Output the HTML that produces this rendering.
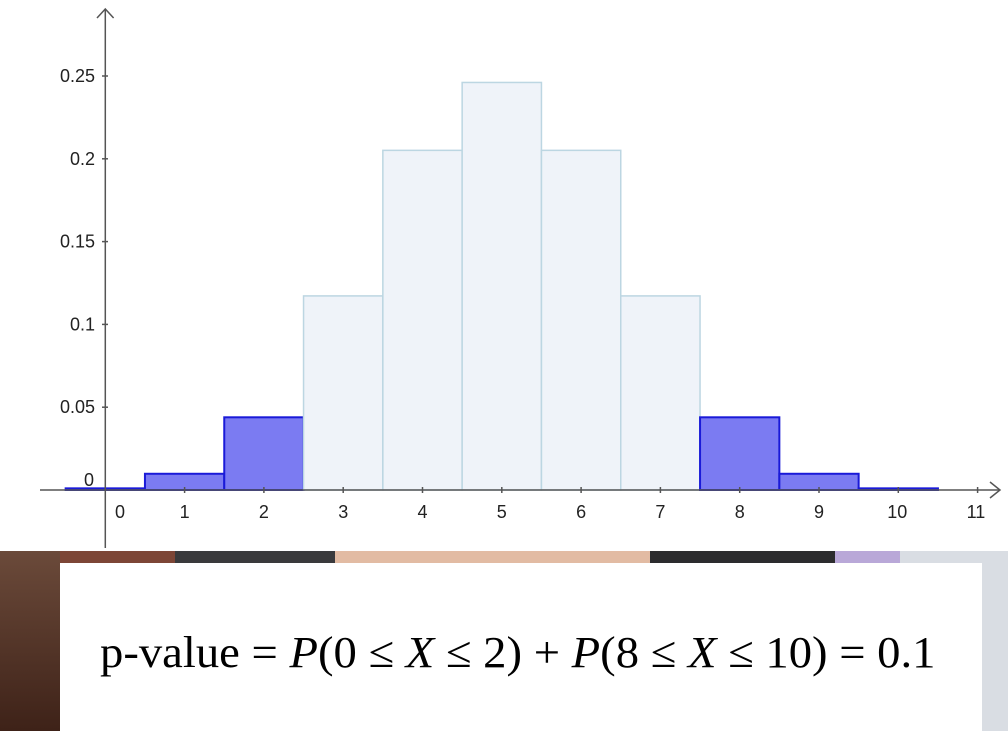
<!DOCTYPE html>
<html><head><meta charset="utf-8"><style>
body{margin:0;width:1008px;height:731px;overflow:hidden;background:#fff;position:relative;font-family:"Liberation Sans",sans-serif}
.seg{position:absolute}
</style></head><body>
<svg id="chart" width="1008" height="551" style="position:absolute;left:0;top:0" xmlns="http://www.w3.org/2000/svg"></svg>
<div style="position:absolute;left:0;top:551px;width:1008px;height:180px">
<div class="seg" style="left:0;top:0;width:60px;height:180px;background:linear-gradient(#6b4a3a,#3e2218)"></div>
<div class="seg" style="left:60px;top:0;width:115px;height:12px;background:#7d4636"></div>
<div class="seg" style="left:175px;top:0;width:160px;height:12px;background:#3a3a3c"></div>
<div class="seg" style="left:335px;top:0;width:315px;height:12px;background:#e2bba3"></div>
<div class="seg" style="left:650px;top:0;width:185px;height:12px;background:#2c2c2e"></div>
<div class="seg" style="left:835px;top:0;width:65px;height:12px;background:#b9a8d8"></div>
<div class="seg" style="left:900px;top:0;width:108px;height:180px;background:#d9dde3"></div>
</div>
<div style="position:absolute;left:60px;top:563px;width:922px;height:168px;background:#fff">
<div style="position:absolute;left:40px;top:64px;font-family:'Liberation Serif',serif;font-size:44px;color:#000;white-space:nowrap;transform:scaleX(1.06);transform-origin:left">p-value = <i>P</i>(0 ≤ <i>X</i> ≤ 2) + <i>P</i>(8 ≤ <i>X</i> ≤ 10) = 0.1</div>
</div>
<script>
const categories=[0,1,2,3,4,5,6,7,8,9,10];
const probs=[0.001,0.0098,0.0439,0.1172,0.2051,0.2461,0.2051,0.1172,0.0439,0.0098,0.001];
const highlighted=[true,true,true,false,false,false,false,false,true,true,true];
const yTicks=[0.05,0.1,0.15,0.2,0.25];
const yTickLabels=["0.05","0.1","0.15","0.2","0.25"];
const xTicks=[0,1,2,3,4,5,6,7,8,9,10,11];
const NS="http://www.w3.org/2000/svg";
const svg=document.getElementById('chart');
const X=v=>105.3+79.3*v;
const Y=v=>490-v*1656;
function mk(t,a){const e=document.createElementNS(NS,t);for(const k in a)e.setAttribute(k,a[k]);svg.appendChild(e);return e;}
categories.forEach((c,i)=>{
 const r=mk('rect',{x:X(c-0.5),y:Y(probs[i]),width:79.3,height:490-Y(probs[i]),fill:highlighted[i]?'#7b7bf2':'#eff3f9',stroke:highlighted[i]?'#1a1ad8':'#bcd6e2','stroke-width':highlighted[i]?2:1.5});
 
 
});
const xa=mk('line',{x1:40,y1:490,x2:1000,y2:490,stroke:'#555','stroke-width':1.5});


mk('polyline',{points:'990,482 1000,490 990,498',fill:'none',stroke:'#555','stroke-width':1.5});
const ya=mk('line',{x1:105.3,y1:548,x2:105.3,y2:9,stroke:'#555','stroke-width':1.5});


mk('polyline',{points:'97,18 105.3,9 113.6,18',fill:'none',stroke:'#555','stroke-width':1.5});
yTicks.forEach((v,i)=>{
 mk('line',{x1:102,y1:Y(v),x2:108,y2:Y(v),stroke:'#555','stroke-width':1.5});
 const t=mk('text',{x:95,y:Y(v)+6,'text-anchor':'end','font-size':18,fill:'#222'});
 t.textContent=yTickLabels[i];
 
 
});
const z=mk('text',{x:94,y:486,'text-anchor':'end','font-size':18,fill:'#222'});z.textContent='0';
xTicks.forEach(v=>{
 if(v>0)mk('line',{x1:X(v),y1:487,x2:X(v),y2:493,stroke:'#555','stroke-width':1.5});
 const t=mk('text',{x:v===0?120:X(v)-5+(v>=10?-6:0),y:518,'text-anchor':v===0?'middle':'start','font-size':18,fill:'#222'});
 t.textContent=v;
 
 
});
</script>
</body></html>
